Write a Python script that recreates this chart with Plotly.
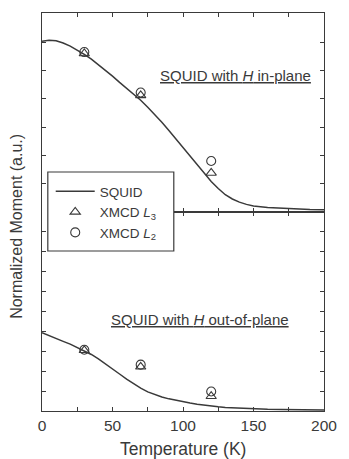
import plotly.graph_objects as go

# ---- data ----
T_curve = [0, 5, 10, 15, 20, 25, 30, 35, 40, 45, 50, 55, 60, 65, 70, 75, 80, 85, 90, 95,
           100, 105, 110, 115, 120, 125, 130, 135, 140, 145, 150, 160, 170, 180, 190, 200]
squid_inplane = [6.03, 6.07, 6.05, 5.97, 5.86, 5.72, 5.57, 5.40, 5.21, 5.01, 4.80, 4.58, 4.37, 4.17, 3.95,
                 3.70, 3.44, 3.17, 2.88, 2.58, 2.27, 1.96, 1.65, 1.35, 1.08, 0.83, 0.61, 0.46, 0.35,
                 0.27, 0.21, 0.16, 0.13, 0.11, 0.09, 0.08]
squid_outplane = [3.93, 3.80, 3.65, 3.50, 3.36, 3.20, 3.02, 2.84, 2.62, 2.38, 2.12, 1.86, 1.60, 1.37, 1.15,
                  0.96, 0.82, 0.70, 0.61, 0.53, 0.46, 0.40, 0.34, 0.29, 0.25, 0.21, 0.18, 0.16, 0.14,
                  0.12, 0.11, 0.09, 0.08, 0.07, 0.06, 0.05]
T_xmcd = [30, 70, 120]
inplane_L3 = [5.60, 4.12, 1.38]
inplane_L2 = [5.65, 4.22, 1.80]
outplane_L3 = [3.05, 2.22, 0.74]
outplane_L2 = [3.08, 2.33, 0.98]
x_tickvals = [0, 50, 100, 150, 200]
x_ticktext = ["0", "50", "100", "150", "200"]

FONT = "Arial, Liberation Sans, sans-serif"
INK = "#3a3a3a"

# geometry helpers (pixel -> paper)
def px_x(p):
    return (p - 42) / 291

def px_y(p):
    return (411 - p) / 398

LEG_L, LEG_R, LEG_T, LEG_B = 48, 178, 172, 251
T_MIN, T_MAX = 0, 200
T_legend_edge = T_MIN + px_x(LEG_R) * (T_MAX - T_MIN)

fig = go.Figure()
# top panel
fig.add_trace(go.Scatter(x=T_curve, y=squid_inplane, mode="lines", name="SQUID",
                         line=dict(color=INK, width=1.5), xaxis="x", yaxis="y"))
fig.add_trace(go.Scatter(x=T_xmcd, y=inplane_L3, mode="markers", name="XMCD <i>L</i><sub>3</sub>",
                         marker=dict(symbol="triangle-up-open", size=9, color=INK, line=dict(width=1.1)),
                         xaxis="x", yaxis="y"))
fig.add_trace(go.Scatter(x=T_xmcd, y=inplane_L2, mode="markers", name="XMCD <i>L</i><sub>2</sub>",
                         marker=dict(symbol="circle-open", size=9, color=INK, line=dict(width=1.1)),
                         xaxis="x", yaxis="y"))
# bottom panel
fig.add_trace(go.Scatter(x=T_curve, y=squid_outplane, mode="lines", showlegend=False,
                         line=dict(color=INK, width=1.5), xaxis="x2", yaxis="y2"))
fig.add_trace(go.Scatter(x=T_xmcd, y=outplane_L3, mode="markers", showlegend=False,
                         marker=dict(symbol="triangle-up-open", size=9, color=INK, line=dict(width=1.1)),
                         xaxis="x2", yaxis="y2"))
fig.add_trace(go.Scatter(x=T_xmcd, y=outplane_L2, mode="markers", showlegend=False,
                         marker=dict(symbol="circle-open", size=9, color=INK, line=dict(width=1.1)),
                         xaxis="x2", yaxis="y2"))
# empty carriers for the divider axes (part not hidden by the legend)
fig.add_trace(go.Scatter(x=[], y=[], showlegend=False, hoverinfo="skip", xaxis="x3", yaxis="y"))
fig.add_trace(go.Scatter(x=[], y=[], showlegend=False, hoverinfo="skip", xaxis="x4", yaxis="y2"))

line_style = dict(showline=True, linecolor=INK, linewidth=1.4, ticks="inside", ticklen=4,
                  tickcolor=INK, tickwidth=1, showgrid=False, zeroline=False)
minor_x = dict(dtick=25, tick0=0, ticks="inside", ticklen=4, tickcolor=INK, showgrid=False)

fig.update_layout(
    width=349, height=459,
    margin=dict(l=42, r=16, t=13, b=48),
    paper_bgcolor="white", plot_bgcolor="rgba(0,0,0,0)",
    font=dict(family=FONT, size=14, color=INK),
    # top panel: top border
    xaxis=dict(range=[T_MIN, T_MAX], domain=[0, 1], anchor="y", side="top", mirror=False,
               tickvals=x_tickvals, showticklabels=False, minor=minor_x, **line_style),
    yaxis=dict(range=[0, 7.03], domain=[0.5, 1], anchor="x", dtick=1, mirror="ticks",
               showticklabels=False, **line_style),
    # bottom panel: bottom border with labels
    xaxis2=dict(range=[T_MIN, T_MAX], domain=[0, 1], anchor="y2", side="bottom", mirror=False,
                tickvals=x_tickvals, ticktext=x_ticktext, minor=minor_x,
                tickfont=dict(size=15.5, color=INK), **line_style),
    yaxis2=dict(range=[0, 10], domain=[0, 0.5], anchor="x2", dtick=1, mirror="ticks",
                showticklabels=False, **line_style),
    # divider between panels, right of the legend
    xaxis3=dict(range=[T_legend_edge, T_MAX], domain=[px_x(LEG_R), 1], anchor="y", side="bottom",
                mirror=False, tickvals=x_tickvals, showticklabels=False, minor=minor_x, **line_style),
    xaxis4=dict(range=[T_legend_edge, T_MAX], domain=[px_x(LEG_R), 1], anchor="y2", side="top",
                mirror=False, tickvals=x_tickvals, showticklabels=False, minor=minor_x, **line_style),
    legend=dict(x=px_x(51), y=px_y(176), xanchor="left", yanchor="top",
                bgcolor="rgba(0,0,0,0)", borderwidth=0, itemwidth=39,
                font=dict(family=FONT, size=13.5, color=INK), tracegroupgap=0),
    showlegend=True,
)

# legend frame
fig.add_shape(type="rect", xref="paper", yref="paper",
              x0=px_x(LEG_L), x1=px_x(LEG_R), y0=px_y(LEG_B), y1=px_y(LEG_T),
              fillcolor="rgba(0,0,0,0)", line=dict(color=INK, width=1.2), layer="above")

fig.add_annotation(text="<u>SQUID with <i>H</i> in-plane</u>", xref="paper", yref="paper",
                   x=px_x(242), y=px_y(76), xanchor="center", yanchor="middle", showarrow=False,
                   font=dict(family=FONT, size=15, color=INK))
fig.add_annotation(text="<u>SQUID with <i>H</i> out-of-plane</u>", xref="paper", yref="paper",
                   x=px_x(205), y=px_y(319), xanchor="center", yanchor="middle", showarrow=False,
                   font=dict(family=FONT, size=15, color=INK))
fig.add_annotation(text="Normalized Moment (a.u.)", xref="paper", yref="paper",
                   x=px_x(15), y=px_y(226), xanchor="center", yanchor="middle",
                   textangle=-90, showarrow=False,
                   font=dict(family=FONT, size=16, color=INK))
fig.add_annotation(text="Temperature (K)", xref="paper", yref="paper",
                   x=px_x(188), y=px_y(449), xanchor="center", yanchor="middle", showarrow=False,
                   font=dict(family=FONT, size=17.5, color=INK))

fig.write_html("out.html")
